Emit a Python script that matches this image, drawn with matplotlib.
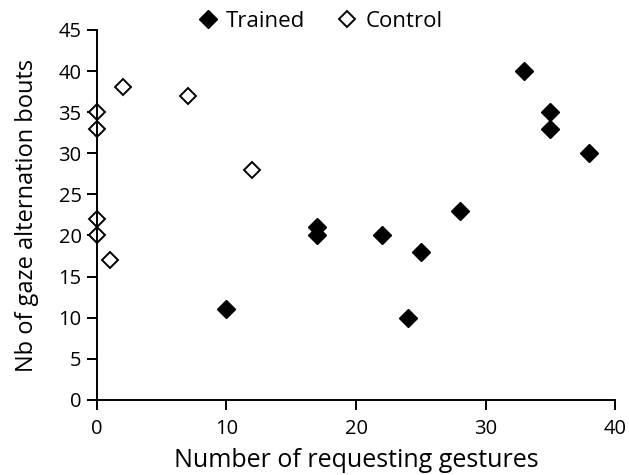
import matplotlib
matplotlib.use("Agg")
import matplotlib.pyplot as plt

# data
trained_x = [10, 17, 17, 22, 24, 25, 28, 33, 35, 35, 38]
trained_y = [11, 21, 20, 20, 10, 18, 23, 40, 35, 33, 30]
control_x = [0, 0, 0, 0, 1, 2, 7, 12]
control_y = [35, 33, 22, 20, 17, 38, 37, 28]

x_ticks = [0, 10, 20, 30, 40]
y_ticks = [0, 5, 10, 15, 20, 25, 30, 35, 40, 45]

plt.rcParams['font.family'] = ['Open Sans', 'DejaVu Sans']

fig = plt.figure(figsize=(6.29, 4.75), dpi=100)
ax = fig.add_axes([0.154, 0.158, 0.824, 0.779])

ax.plot(trained_x, trained_y, linestyle='none', marker='D', ms=8.8,
        mfc='black', mec='black', mew=1.0, label='Trained', clip_on=False)
ax.plot(control_x, control_y, linestyle='none', marker='D', ms=7.8,
        mfc='white', mec='black', mew=1.4, label='Control', clip_on=False)

ax.set_xlim(0, 40)
ax.set_ylim(0, 45)
ax.set_xticks(x_ticks)
ax.set_yticks(y_ticks)
for s in ['top', 'right']:
    ax.spines[s].set_visible(False)
for s in ['left', 'bottom']:
    ax.spines[s].set_linewidth(1.4)
ax.tick_params(direction='out', length=7, width=1.4, labelsize=14.5, pad=4)
ax.tick_params(axis='x', pad=7)

ax.set_xlabel('Number of requesting gestures', fontsize=18, labelpad=6)
ax.set_ylabel('Nb of gaze alternation bouts', fontsize=17, labelpad=14)

ax.legend(loc='upper center', bbox_to_anchor=(0.43, 1.105), ncol=2, frameon=False,
          fontsize=16, handletextpad=0.3, columnspacing=1.4, handlelength=1.0)

fig.savefig('out.png', dpi=100)
